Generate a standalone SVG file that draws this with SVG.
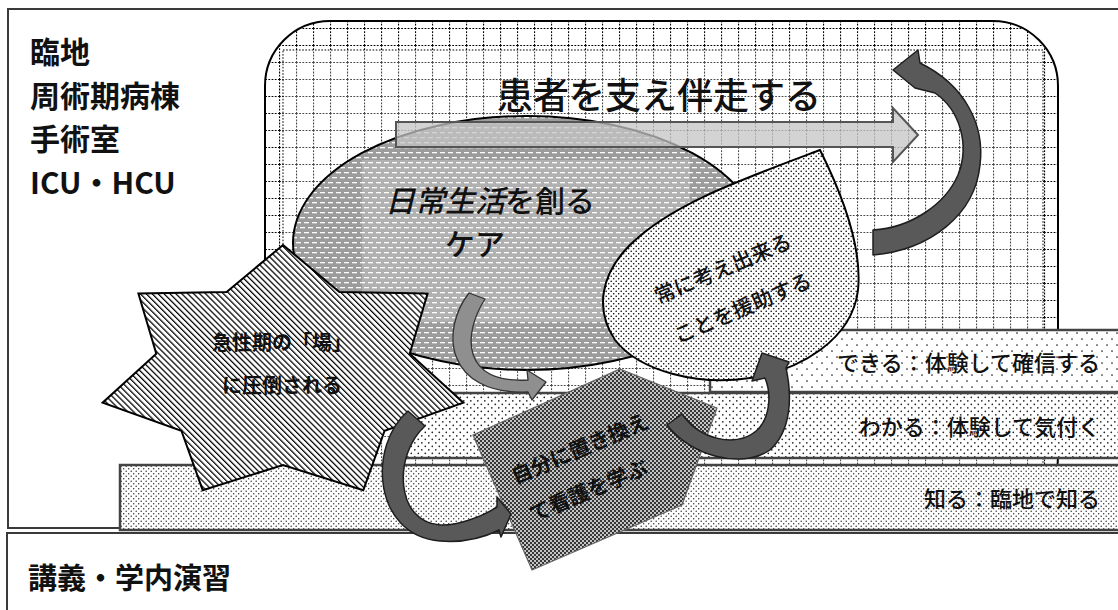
<svg xmlns="http://www.w3.org/2000/svg" width="1118" height="610" viewBox="0 0 1118 610">
<defs>
<style>
.t{font-family:"Noto Sans CJK JP","Noto Sans",sans-serif;fill:#111;font-weight:500}
.lab{font-size:30px;font-weight:bold}
.mid{font-size:21px}
.b{font-weight:bold}
.strip{font-size:22px;text-anchor:end}
.box{fill:#fff;stroke:#3a3a3a;stroke-width:2}
.stp{stroke:#444;stroke-width:2.5}
.darr{fill:#595959;stroke:#1e1e1e;stroke-width:1.5;stroke-linejoin:round}
</style>
<pattern id="gridO" width="17" height="17" patternUnits="userSpaceOnUse" x="279" y="45">
<rect width="17" height="17" fill="#fff"/>
<path d="M0 0.5H17M0.5 0V17" stroke="#000" stroke-width="1.2" stroke-dasharray="1.8 1.4"/>
</pattern>
<pattern id="gridI" width="17" height="17" patternUnits="userSpaceOnUse" x="279" y="45">
<rect width="17" height="17" fill="#fff"/>
<path d="M0 0.5H17M0.5 0V17" stroke="#4a4a4a" stroke-width="1.2" stroke-dasharray="1.8 1.4"/>
</pattern>
<pattern id="dash" width="8" height="10" patternUnits="userSpaceOnUse">
<rect width="8" height="10" fill="#9c9c9c"/>
<rect x="0" y="2" width="5" height="1.3" fill="#fff"/>
<rect x="4" y="7" width="4" height="1.3" fill="#fff"/>
<rect x="0" y="7" width="1" height="1.3" fill="#fff"/>
</pattern>
<pattern id="diag" width="4.2" height="4.2" patternUnits="userSpaceOnUse" patternTransform="rotate(-45)">
<rect width="4.2" height="4.2" fill="#fff"/>
<rect width="1.25" height="4.2" fill="#000"/>
</pattern>
<pattern id="leafdot" width="5" height="5" patternUnits="userSpaceOnUse">
<rect width="5" height="5" fill="#fff"/>
<circle cx="1.2" cy="1.2" r="0.8" fill="#000"/>
<circle cx="3.7" cy="3.7" r="0.8" fill="#000"/>
</pattern>
<pattern id="dot1" width="10" height="12" patternUnits="userSpaceOnUse">
<rect width="10" height="12" fill="#fff"/>
<circle cx="2" cy="3" r="0.85" fill="#222"/>
<circle cx="7" cy="9" r="0.85" fill="#222"/>
</pattern>
<pattern id="dot2" width="7" height="7" patternUnits="userSpaceOnUse">
<rect width="7" height="7" fill="#fff"/>
<circle cx="1.8" cy="1.8" r="0.85" fill="#222"/>
<circle cx="5.3" cy="5.3" r="0.85" fill="#222"/>
</pattern>
<pattern id="dot3" width="5" height="5" patternUnits="userSpaceOnUse">
<rect width="5" height="5" fill="#fff"/>
<circle cx="1.2" cy="1.2" r="0.75" fill="#333"/>
<circle cx="3.7" cy="3.7" r="0.75" fill="#333"/>
</pattern>
<pattern id="check" width="4" height="4" patternUnits="userSpaceOnUse">
<rect width="4" height="4" fill="#c4c4c4"/>
<rect width="2" height="2" fill="#383838"/>
<rect x="2" y="2" width="2" height="2" fill="#383838"/>
</pattern>
<clipPath id="ellClip"><ellipse cx="527" cy="243" rx="234" ry="127"/></clipPath>
</defs>

<g id="clinical-box">
<rect class="box" x="8" y="9" width="1130" height="519"/>
<text class="t lab" x="30" y="63">臨地</text>
<text class="t lab" x="30" y="107">周術期病棟</text>
<text class="t lab" x="30" y="150">手術室</text>
<text class="t lab" x="30" y="194">ICU・HCU</text>
</g>

<g id="lecture-box">
<rect class="box" x="7" y="533" width="1130" height="90"/>
<text class="t lab" x="28" y="589" style="font-size:29px">講義・学内演習</text>
</g>

<g id="support-area">
<rect x="265" y="21" width="793" height="500" rx="65" fill="url(#gridO)" stroke="#000" stroke-width="2"/>
<rect x="283" y="50" width="760" height="470" fill="url(#gridI)" stroke="#000" stroke-width="1" stroke-dasharray="1.6 1.6"/>
<text class="t" x="497" y="109" style="font-size:36px">患者を支え伴走する</text>
</g>

<g id="daily-care">
<ellipse cx="527" cy="243" rx="234" ry="127" fill="url(#dash)"/>
<rect x="362" y="160" width="328" height="162" fill="#fff" fill-opacity="0.22" clip-path="url(#ellClip)"/>
<ellipse cx="527" cy="243" rx="234" ry="127" fill="none" stroke="#000" stroke-width="2"/>
<text class="t" x="385" y="212" style="font-size:30px"><tspan font-style="italic">日常生活</tspan>を創る</text>
<text class="t" x="445" y="255" style="font-size:30px">ケア</text>
</g>

<g id="forward-arrow">
<polygon points="396,122 893,122 893,108 918,135 893,162 893,147 396,147" fill="#c4c4c4" fill-opacity="0.75" stroke="#555" stroke-width="2" stroke-linejoin="miter"/>
</g>

<g id="level-dekiru">
<rect class="stp" x="710" y="330" width="450" height="62" fill="url(#dot1)"/>
<text class="t strip" x="1100" y="371">できる：体験して確信する</text>
</g>
<g id="level-wakaru">
<rect class="stp" x="400" y="393" width="760" height="65" fill="url(#dot2)"/>
<text class="t strip" x="1100" y="435">わかる：体験して気付く</text>
</g>
<g id="level-shiru">
<rect class="stp" x="120" y="465" width="1040" height="65" fill="url(#dot3)"/>
<text class="t strip" x="1100" y="507">知る：臨地で知る</text>
</g>

<g id="acute-star">
<polygon points="283,245 339.4,292 427.6,293.6 409.7,353.8 463.4,402.7 384.6,430.7 363.3,490.2 283,465 202.7,490.2 181.4,430.7 102.6,402.7 156.3,353.8 138.4,293.6 226.6,292" fill="url(#diag)" stroke="#000" stroke-width="2" stroke-linejoin="miter"/>
<text class="t b" x="282" y="350" text-anchor="middle" style="font-size:20px">急性期の「場」</text>
<text class="t b" x="282" y="393" text-anchor="middle" style="font-size:20px">に圧倒される</text>
</g>

<g id="help-leaf">
<path d="M820,150 C845,200 862,250 858,290 C852,340 800,370 750,378 C700,386 640,372 615,340 C595,310 600,275 630,245 C670,205 740,180 820,150 Z" fill="url(#leafdot)" stroke="#000" stroke-width="2"/>
<g transform="translate(655,297) rotate(-23)">
<text class="t mid" x="0" y="8">常に考え出来る</text>
<text class="t mid" x="3" y="52">ことを援助する</text>
</g>
</g>

<g id="self-pentagon">
<polygon points="620,369 717,408 682,505 532,570 473,435" fill="url(#check)" stroke="#666" stroke-width="1.2"/>
<g transform="translate(512,477) rotate(-23)">
<text class="t mid b" x="0" y="8">自分に置き換え</text>
<text class="t mid b" x="2" y="50">て看護を学ぶ</text>
</g>
</g>

<g id="connectors">
<path class="darr" d="M873,230 C910,228 945,205 958,175 C970,145 960,110 935,93 L915,88 L893,70 L918,50 L920,63 C965,85 985,125 980,165 C975,215 930,250 873,255 Z"/>
<path d="M469,293 C440,330 445,395 528,392 L532,400 L546,382 L527,370 L528,380 C462,384 462,335 485,299 Z" fill="#8f8f8f" stroke="#333" stroke-width="1.3" stroke-linejoin="round"/>
<path class="darr" d="M408,411 C368,445 372,535 440,541 C465,543 485,537 499,530 L501,537 L511,514 L497,497 L497,507 C480,518 455,526 440,525 C395,522 393,455 425,426 Z"/>
<path class="darr" d="M667,425 C690,455 740,470 770,450 C792,430 792,395 786,368 L789,362 L762,353 L752,381 L765,378 C772,395 770,420 755,432 C735,447 700,440 682,414 Z"/>
</g>
</svg>
